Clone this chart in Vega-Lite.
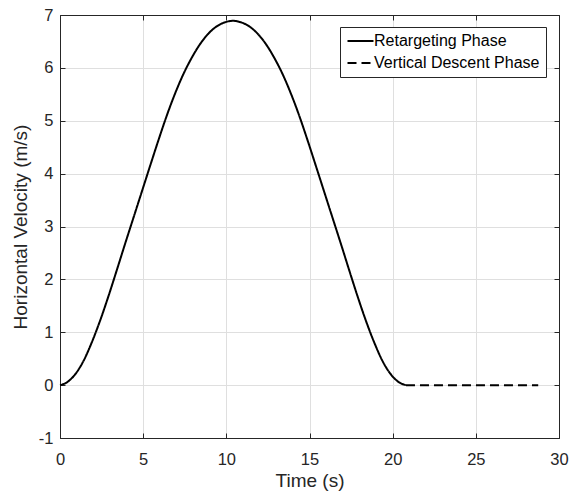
{
  "$schema": "https://vega.github.io/schema/vega-lite/v6.json",
  "width": 499,
  "height": 423,
  "autosize": {"type": "none"},
  "padding": {"left": 60, "top": 15, "right": 15, "bottom": 58},
  "background": "white",
  "data": {
    "values": [
      {"t": 0, "v": 0, "phase": "Retargeting Phase"},
      {"t": 0.4, "v": 0.05, "phase": "Retargeting Phase"},
      {"t": 0.9, "v": 0.2, "phase": "Retargeting Phase"},
      {"t": 1.4, "v": 0.45, "phase": "Retargeting Phase"},
      {"t": 1.9, "v": 0.8, "phase": "Retargeting Phase"},
      {"t": 2.4, "v": 1.21, "phase": "Retargeting Phase"},
      {"t": 2.9, "v": 1.67, "phase": "Retargeting Phase"},
      {"t": 3.4, "v": 2.16, "phase": "Retargeting Phase"},
      {"t": 3.9, "v": 2.66, "phase": "Retargeting Phase"},
      {"t": 4.4, "v": 3.15, "phase": "Retargeting Phase"},
      {"t": 4.9, "v": 3.64, "phase": "Retargeting Phase"},
      {"t": 5.4, "v": 4.13, "phase": "Retargeting Phase"},
      {"t": 5.9, "v": 4.615, "phase": "Retargeting Phase"},
      {"t": 6.4, "v": 5.08, "phase": "Retargeting Phase"},
      {"t": 6.9, "v": 5.5, "phase": "Retargeting Phase"},
      {"t": 7.4, "v": 5.87, "phase": "Retargeting Phase"},
      {"t": 7.9, "v": 6.18, "phase": "Retargeting Phase"},
      {"t": 8.4, "v": 6.44, "phase": "Retargeting Phase"},
      {"t": 8.9, "v": 6.64, "phase": "Retargeting Phase"},
      {"t": 9.4, "v": 6.78, "phase": "Retargeting Phase"},
      {"t": 9.9, "v": 6.86, "phase": "Retargeting Phase"},
      {"t": 10.4, "v": 6.89, "phase": "Retargeting Phase"},
      {"t": 10.9, "v": 6.86, "phase": "Retargeting Phase"},
      {"t": 11.4, "v": 6.78, "phase": "Retargeting Phase"},
      {"t": 11.9, "v": 6.64, "phase": "Retargeting Phase"},
      {"t": 12.4, "v": 6.44, "phase": "Retargeting Phase"},
      {"t": 12.9, "v": 6.18, "phase": "Retargeting Phase"},
      {"t": 13.4, "v": 5.87, "phase": "Retargeting Phase"},
      {"t": 13.9, "v": 5.5, "phase": "Retargeting Phase"},
      {"t": 14.4, "v": 5.08, "phase": "Retargeting Phase"},
      {"t": 14.9, "v": 4.615, "phase": "Retargeting Phase"},
      {"t": 15.4, "v": 4.13, "phase": "Retargeting Phase"},
      {"t": 15.9, "v": 3.64, "phase": "Retargeting Phase"},
      {"t": 16.4, "v": 3.15, "phase": "Retargeting Phase"},
      {"t": 16.9, "v": 2.66, "phase": "Retargeting Phase"},
      {"t": 17.4, "v": 2.16, "phase": "Retargeting Phase"},
      {"t": 17.9, "v": 1.67, "phase": "Retargeting Phase"},
      {"t": 18.4, "v": 1.21, "phase": "Retargeting Phase"},
      {"t": 18.9, "v": 0.8, "phase": "Retargeting Phase"},
      {"t": 19.4, "v": 0.45, "phase": "Retargeting Phase"},
      {"t": 19.9, "v": 0.2, "phase": "Retargeting Phase"},
      {"t": 20.4, "v": 0.05, "phase": "Retargeting Phase"},
      {"t": 20.8, "v": 0, "phase": "Retargeting Phase"},
      {"t": 20.8, "v": 0, "phase": "Vertical Descent Phase"},
      {"t": 28.75, "v": 0, "phase": "Vertical Descent Phase"}
    ]
  },
  "layer": [
    {
      "mark": {"type": "line", "color": "black", "strokeWidth": 2, "interpolate": "monotone"},
      "encoding": {
        "x": {"field": "t", "type": "quantitative", "scale": {"domain": [0, 30], "nice": false},
          "axis": {"title": "Time (s)", "values": [0, 5, 10, 15, 20, 25, 30], "grid": true, "labelPadding": 18, "titlePadding": 4, "labelFlush": false}},
        "y": {"field": "v", "type": "quantitative", "scale": {"domain": [-1, 7], "nice": false},
          "axis": {"title": "Horizontal Velocity (m/s)", "values": [-1, 0, 1, 2, 3, 4, 5, 6, 7], "labelExpr": "'' + datum.value", "grid": true, "labelPadding": 12, "titlePadding": 8, "labelFlush": false}},
        "strokeDash": {"field": "phase", "type": "nominal",
          "scale": {"domain": ["Retargeting Phase", "Vertical Descent Phase"], "range": [[1, 0], [9, 5]]},
          "legend": {"title": null, "orient": "none", "legendX": 280, "legendY": 12, "symbolType": "M-1,0H3", "symbolSize": 169, "symbolStrokeWidth": 2, "symbolStrokeColor": "black", "labelFontSize": 16, "labelColor": "#000000", "labelOffset": 12, "labelLimit": 0, "padding": 6, "rowPadding": 6, "fillColor": "white", "strokeColor": "#262626"}}
      }
    },
    {
      "mark": {"type": "line", "opacity": 0},
      "encoding": {
        "x": {"field": "t", "type": "quantitative", "axis": {"orient": "top", "title": null, "labels": false, "grid": false, "values": [0, 5, 10, 15, 20, 25, 30]}},
        "y": {"field": "v", "type": "quantitative", "axis": {"orient": "right", "title": null, "labels": false, "grid": false, "values": [-1, 0, 1, 2, 3, 4, 5, 6, 7]}}
      }
    }
  ],
  "resolve": {"axis": {"x": "independent", "y": "independent"}},
  "config": {
    "font": "Liberation Sans",
    "view": {"stroke": "#262626", "strokeWidth": 1},
    "axis": {
      "domainColor": "#262626",
      "tickColor": "#262626",
      "labelColor": "#262626",
      "titleColor": "#262626",
      "labelFontSize": 16.5,
      "titleFontSize": 19,
      "titleFontWeight": "normal",
      "gridColor": "#dfdfdf",
      "gridWidth": 1,
      "tickSize": -5,
      "tickWidth": 1,
      "domainWidth": 1
    }
  }
}
